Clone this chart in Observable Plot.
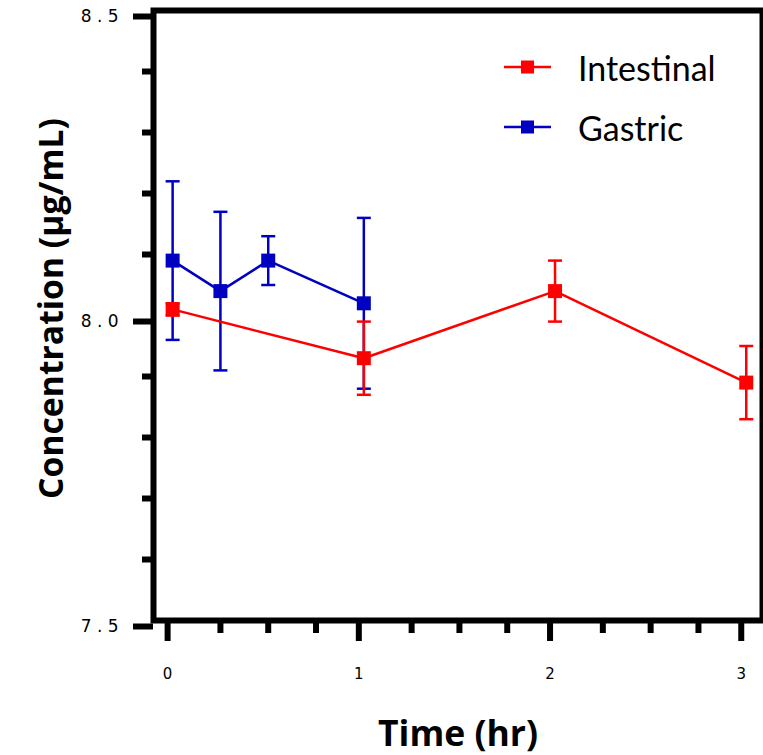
<!DOCTYPE html>
<html>
<head>
<meta charset="utf-8">
<script src="https://cdn.jsdelivr.net/npm/d3@7"></script>
<script src="https://cdn.jsdelivr.net/npm/@observablehq/plot@0.6"></script>
<style>
  html, body { margin: 0; padding: 0; background: #fff; }
  #wrap { position: relative; width: 763px; height: 755px; }
  .leg { position: absolute; left: 503px; display: flex; align-items: center; height: 40px;
         font-family: Lato, sans-serif; font-size: 34px; color: #000; }
  .leg svg { margin-right: 26px; }
</style>
</head>
<body>
<div id="wrap"></div>
<script>
// ---- data ----
const seriesNames = ["Intestinal", "Gastric"];
const seriesColors = ["#ff0000", "#0000c0"];

const gastricTime = [0, 0.25, 0.5, 1];
const gastricMean = [8.09, 8.04, 8.09, 8.02];
const gastricSD   = [0.13, 0.13, 0.04, 0.14];

const intestinalTime = [0, 1, 2, 3];
const intestinalMean = [8.01, 7.93, 8.04, 7.89];
const intestinalSD   = [0.01, 0.06, 0.05, 0.06];

const yMajorTicks = [7.5, 8.0, 8.5];
const yMinorTicks = [7.6, 7.7, 7.8, 7.9, 8.1, 8.2, 8.3, 8.4];
const xMajorTicks = [0, 1, 2, 3];
const xMinorTicks = [0.25, 0.5, 0.75, 1.25, 1.5, 1.75, 2.25, 2.5, 2.75];

const xLabel = "Time (hr)";
const yLabel = "Concentration (µg/mL)";

// ---- build rows ----
const gastric = gastricTime.map((t, i) => ({series: "Gastric", t, m: gastricMean[i], sd: gastricSD[i]}));
const intestinal = intestinalTime.map((t, i) => ({series: "Intestinal", t, m: intestinalMean[i], sd: intestinalSD[i]}));

const capSymbol = {
  draw(context, size) {
    const r = Math.sqrt(size / Math.PI);
    context.moveTo(-r, 0);
    context.lineTo(r, 0);
  }
};

function seriesMarks(data, color) {
  return [
    Plot.ruleX(data, {x: "t", y1: d => d.m - d.sd, y2: d => d.m + d.sd, stroke: color, strokeWidth: 2.5}),
    Plot.dot(data, {x: "t", y: d => d.m - d.sd, symbol: capSymbol, r: 7, stroke: color, strokeWidth: 2.5, fill: "none"}),
    Plot.dot(data, {x: "t", y: d => d.m + d.sd, symbol: capSymbol, r: 7, stroke: color, strokeWidth: 2.5, fill: "none"}),
    Plot.line(data, {x: "t", y: "m", stroke: color, strokeWidth: 2.5}),
    Plot.dot(data, {x: "t", y: "m", symbol: "square", r: 7.9, fill: color, stroke: "none"})
  ];
}

const spaced = d => d.toFixed(1).split("").join(" ");
const yLabelTexts = yMajorTicks.map(spaced);

const chart = Plot.plot({
  width: 763,
  height: 755,
  marginLeft: 153,
  marginRight: 1,
  marginTop: 10,
  marginBottom: 135,
  style: {fontFamily: "DejaVu Sans", fontSize: "15px", color: "#000", background: "#fff", overflow: "visible"},
  x: {domain: [-0.1, 3.085]},
  y: {domain: [7.5, 8.5]},
  marks: [
    Plot.axisY(yMinorTicks, {tickSize: 11, strokeWidth: 6, tickFormat: null, text: null, label: null}),
    Plot.axisY(yMajorTicks, {tickSize: 20, strokeWidth: 6, tickPadding: 15, tickFormat: spaced, dy: 6, label: null}),
    Plot.axisX(xMinorTicks, {tickSize: 13, strokeWidth: 6, tickFormat: null, text: null, label: null}),
    Plot.axisX(xMajorTicks, {tickSize: 21, strokeWidth: 6, tickPadding: 27, tickFormat: d => String(d), dx: -5, label: null}),
    ...seriesMarks(gastric, seriesColors[1]),
    ...seriesMarks(intestinal, seriesColors[0]),
    Plot.frame({stroke: "#000", strokeWidth: 6}),
    Plot.text([xLabel], {frameAnchor: "bottom", text: d => d, dy: 114, lineAnchor: "middle", textAnchor: "middle",
      fontSize: 35.5, fontWeight: "bold", fontFamily: "Open Sans"}),
    Plot.text([yLabel], {frameAnchor: "left", text: d => d, rotate: -90, dx: -101, dy: -7, lineAnchor: "middle", textAnchor: "middle",
      fontSize: 33.7, fontWeight: "bold", fontFamily: "Open Sans"})
  ]
});

// enlarge tick label fonts
d3.select(chart).selectAll("text").each(function () {
  const t = this.textContent;
  if (yLabelTexts.includes(t)) { this.style.fontSize = "17px"; this.style.fontFamily = "DejaVu Sans"; }
  else if (xMajorTicks.map(String).includes(t)) { this.style.fontSize = "15px"; this.style.fontFamily = "DejaVu Sans"; }
});

const wrap = document.getElementById("wrap");
wrap.appendChild(chart);

// legend overlay
const legTops = [47, 107];
seriesNames.forEach((name, i) => {
  const div = document.createElement("div");
  div.className = "leg";
  div.style.top = legTops[i] + "px";
  const c = seriesColors[i];
  div.innerHTML = `<svg width="49" height="20"><line x1="1" y1="10" x2="48" y2="10" stroke="${c}" stroke-width="2.5"/><rect x="18" y="3.5" width="13" height="13" fill="${c}"/></svg><span>${name}</span>`;
  wrap.appendChild(div);
});
</script>
</body>
</html>
